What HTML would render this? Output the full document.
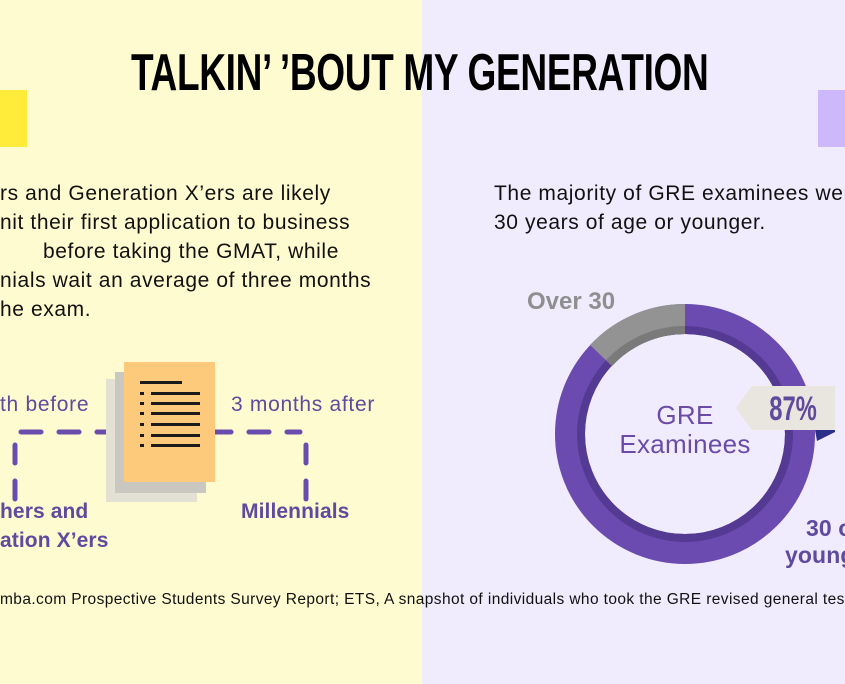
<!DOCTYPE html>
<html><head><meta charset="utf-8"><style>
body{margin:0;width:845px;height:684px;overflow:hidden;position:relative;font-family:"Liberation Sans",sans-serif}
.t{position:absolute;white-space:nowrap}
.b{font-size:21px;color:#111;letter-spacing:0.6px}
.p{color:#5e4a9e;font-size:21px;letter-spacing:0.7px}
.pb{color:#5e4a9e;font-size:21px;font-weight:bold;letter-spacing:0.1px}
</style></head><body>
<div style="position:absolute;left:0;top:0;width:422px;height:684px;background:#fffbd0"></div>
<div style="position:absolute;left:422px;top:0;width:423px;height:684px;background:#f0ecfd"></div>
<div style="position:absolute;left:0;top:90px;width:27px;height:57px;background:#ffec3a"></div>
<div style="position:absolute;left:818px;top:90px;width:27px;height:57px;background:#cdb8fb"></div>
<div class="t" style="left:131px;top:45px;width:577px;height:56px;overflow:visible">
<span style="display:inline-block;font-weight:bold;font-size:52px;line-height:56px;color:#000;transform:scaleX(0.713);transform-origin:0 0;letter-spacing:-0.5px">TALKIN’ ’BOUT MY GENERATION</span></div>

<div class="t b" style="left:0;top:182px">rs and Generation X’ers are likely</div>
<div class="t b" style="left:0;top:211px">nit their first application to business</div>
<div class="t b" style="left:43px;top:240px">before taking the GMAT, while</div>
<div class="t b" style="left:0;top:269px">nials wait an average of three months</div>
<div class="t b" style="left:0;top:298px">he exam.</div>
<div class="t b" style="left:494px;top:182px">The majority of GRE examinees were</div>
<div class="t b" style="left:494px;top:211px">30 years of age or younger.</div>

<svg style="position:absolute;left:0;top:0" width="845" height="684">
<g stroke="#6a4cae" stroke-width="5" stroke-linecap="round" fill="none">
<path d="M21 432H300" stroke-dasharray="20 18"/>
<path d="M15 445V500" stroke-dasharray="18 18"/>
<path d="M306 445V500" stroke-dasharray="18 18"/>
</g>
<rect x="106" y="379" width="91" height="123" fill="#e3e1d4"/>
<rect x="115" y="372" width="91" height="121" fill="#c9c7c0"/>
<rect x="124" y="362" width="91" height="120" fill="#fdc97a"/>
<g fill="#1a1a1a">
<rect x="140" y="381" width="42" height="3"/>
<rect x="140" y="392" width="4" height="3"/><rect x="151" y="392" width="49" height="3"/>
<rect x="140" y="402" width="4" height="3"/><rect x="151" y="402" width="49" height="3"/>
<rect x="140" y="412" width="4" height="3"/><rect x="151" y="412" width="49" height="3"/>
<rect x="140" y="423" width="4" height="3"/><rect x="151" y="423" width="49" height="3"/>
<rect x="140" y="434" width="4" height="3"/><rect x="151" y="434" width="49" height="3"/>
<rect x="140" y="444" width="4" height="3"/><rect x="151" y="444" width="49" height="3"/>
</g>
<circle cx="685" cy="434" r="115" fill="none" stroke="#6b4bb0" stroke-width="30"/>
<circle cx="685" cy="434" r="104" fill="none" stroke="#553a94" stroke-width="8"/>
<path d="M685 304 A130 130 0 0 0 590 345 L612 366 A100 100 0 0 1 685 334 Z" fill="#939393"/>
<path d="M685 326 A108 108 0 0 0 606 360 L612 366 A100 100 0 0 1 685 334 Z" fill="#7a7a7a"/>
<path d="M815 430 L835 430 L835 432 L817 441 Z" fill="#2c2f8a"/>
<path d="M736 408 L752 386 L835 386 L835 430 L752 430 Z" fill="#e8e6df"/>
</svg>
<div class="t" style="left:754px;top:388px;width:78px;height:42px;text-align:center">
<span style="display:inline-block;font-weight:bold;font-size:34px;line-height:42px;color:#5e4a9e;transform:scaleX(0.7)">87%</span></div>

<div class="t p" style="left:0;top:393px">th before</div>
<div class="t p" style="left:231px;top:393px">3 months after</div>
<div class="t pb" style="left:0;top:500px">hers and</div>
<div class="t pb" style="left:0;top:529px">ation X’ers</div>
<div class="t pb" style="left:241px;top:500px">Millennials</div>

<div class="t" style="left:527px;top:288px;font-size:24px;font-weight:bold;color:#8f8f8f">Over 30</div>
<div class="t" style="left:585px;top:401px;width:200px;text-align:center;font-size:26px;line-height:29px;letter-spacing:0.3px;color:#6a4ca8">GRE<br>Examinees</div>
<div class="t pb" style="left:806px;top:515px;font-size:23px">30 or</div>
<div class="t pb" style="left:785px;top:542px;font-size:23px">younger</div>

<div class="t" style="left:0;top:591px;font-size:15.5px;letter-spacing:0.4px;color:#111">mba.com Prospective Students Survey Report; ETS, A snapshot of individuals who took the GRE revised general test</div>
</body></html>
